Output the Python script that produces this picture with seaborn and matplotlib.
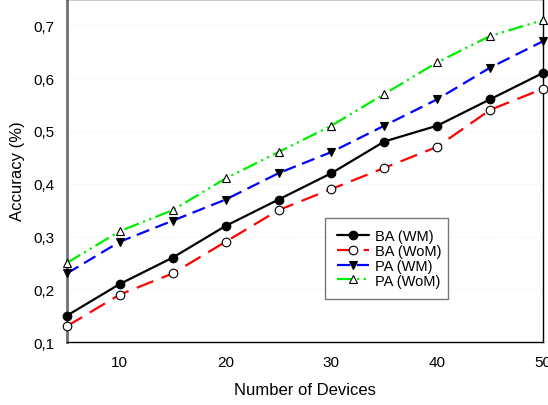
import matplotlib
matplotlib.use("Agg")
import matplotlib.pyplot as plt
from matplotlib.ticker import FuncFormatter, MultipleLocator
import seaborn as sns
import pandas as pd

devices = [5, 10, 15, 20, 25, 30, 35, 40, 45, 50]
ba_wm = [0.15, 0.21, 0.26, 0.32, 0.37, 0.42, 0.48, 0.51, 0.56, 0.61]
ba_wom = [0.13, 0.19, 0.23, 0.29, 0.35, 0.39, 0.43, 0.47, 0.54, 0.58]
pa_wm = [0.23, 0.29, 0.33, 0.37, 0.42, 0.46, 0.51, 0.56, 0.62, 0.67]
pa_wom = [0.25, 0.31, 0.35, 0.41, 0.46, 0.51, 0.57, 0.63, 0.68, 0.71]

sns.set_style("white")
plt.rcParams["font.family"] = ["Liberation Sans", "DejaVu Sans"]
plt.rcParams["text.color"] = "black"
plt.rcParams["axes.labelcolor"] = "black"

fig = plt.figure(figsize=(5.48, 4.06), dpi=100)
ax = fig.add_axes([0.122, 0.155, 0.869, 0.845])

# faint horizontal grid
for yv in [0.2, 0.3, 0.4, 0.5, 0.6, 0.7]:
    ax.axhline(yv, color="#e6e6e6", lw=0.6, ls=(0, (1, 2)), zorder=0)

series = [
    ("BA (WM)", ba_wm, "black", "-", "o", "black", 6.2),
    ("BA (WoM)", ba_wom, "red", (0, (8, 4)), "o", "white", 6.2),
    ("PA (WM)", pa_wm, "blue", (0, (6, 3)), "v", "black", 6.0),
    ("PA (WoM)", pa_wom, "#00ee00", (0, (7, 2, 1, 2, 1, 2)), "^", "white", 6.0),
]

for name, vals, col, ls, mk, fc, ms in series:
    df = pd.DataFrame({"x": devices, "y": vals})
    sns.lineplot(data=df, x="x", y="y", ax=ax, color=col, linestyle=ls, lw=1.6,
                 marker=mk, markersize=ms,
                 markerfacecolor=fc, markeredgecolor="black", markeredgewidth=0.8,
                 label=name, clip_on=False, zorder=3)

ax.set_xlim(5, 50)
ax.set_ylim(0.1, 0.75)
ax.xaxis.set_major_locator(MultipleLocator(10))
ax.yaxis.set_major_locator(MultipleLocator(0.1))
ax.yaxis.set_major_formatter(FuncFormatter(lambda v, p: f"{v:.1f}".replace(".", ",")))
ax.xaxis.set_major_formatter(FuncFormatter(lambda v, p: f"{int(round(v))}"))
ax.tick_params(direction="out", length=5, width=1, labelsize=11, colors="black")
ax.tick_params(axis="x", pad=4)
ax.tick_params(axis="y", pad=4)

for s in ["top", "right", "bottom"]:
    ax.spines[s].set_color("black")
    ax.spines[s].set_linewidth(1)
ax.spines["left"].set_color("#707070")
ax.spines["left"].set_linewidth(2)

ax.set_xlabel("Number of Devices", fontsize=12, labelpad=10)
ax.set_ylabel("Accuracy (%)", fontsize=12, labelpad=6)

leg = ax.legend(loc="lower left", bbox_to_anchor=(0.542, 0.125, 0.258, 0.2), mode="expand",
                fontsize=10.5, frameon=True, fancybox=False, handlelength=2.2,
                borderpad=0.8, labelspacing=0.05, handletextpad=0.4, borderaxespad=0)
leg.get_frame().set_edgecolor("#555555")
leg.get_frame().set_linewidth(1)

fig.savefig("out.png", dpi=100)
